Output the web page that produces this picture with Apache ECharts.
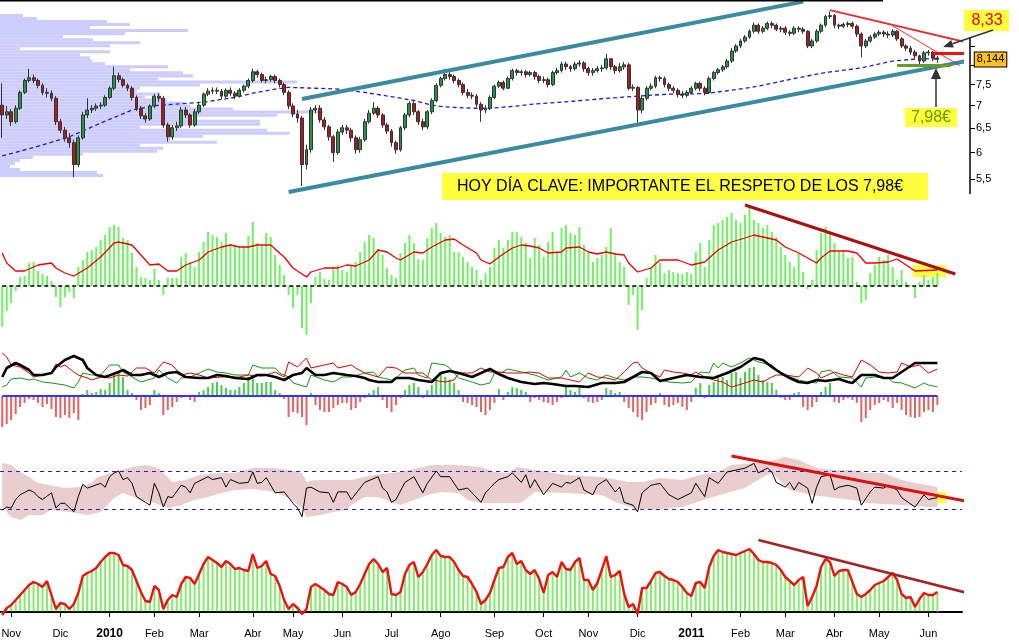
<!DOCTYPE html>
<html><head><meta charset="utf-8">
<script src="https://cdn.jsdelivr.net/npm/echarts@6/dist/echarts.min.js"></script>
<style>html,body{margin:0;padding:0;background:#fff}#c{width:1019px;height:644px}</style>
</head><body><div id="c"></div>
<script>
// ---------- DATA ----------
const N_CAT = 215; // 210 sessions (2 trading days each) + empty room on the right
const categories = Array.from({length: N_CAT}, (_, i) => 'd' + i);
const monthTickIndex = [2,13,24,34,44,56,65,76,87,98,110,121,131,142,154,165,175,186,196,207];
const monthLabels = ['Nov','Dic','2010','Feb','Mar','Abr','May','Jun','Jul','Ago','Sep','Oct','Nov','Dic','2011','Feb','Mar','Abr','May','Jun'];
const priceTicks = [5.5,6,6.5,7,7.5,8,8.5];
const priceTickLabels = [5.5,6,6.5,7,7.5];
const lastPrice = 8.144;

// [open, close, low, high]
const candles = [
[7.01,6.79,6.30,7.53],[6.79,6.86,6.70,6.99],[6.86,6.64,6.55,6.92],[6.64,6.94,6.60,7.01],[6.94,7.31,6.90,7.36],[7.31,7.60,7.27,7.65],[7.60,7.67,7.55,7.90],[7.67,7.60,7.53,7.75],[7.60,7.48,7.41,7.65],[7.48,7.31,7.24,7.53],
[7.31,7.29,7.19,7.41],[7.29,7.17,7.10,7.36],[7.17,6.64,6.57,7.22],[6.64,6.46,6.40,6.70],[6.46,6.30,6.22,6.53],[6.30,6.20,6.10,6.40],[6.20,5.77,5.54,6.26],[5.77,6.30,5.72,6.35],[6.30,6.79,6.26,6.86],[6.79,6.90,6.72,7.17],
[6.90,6.94,6.83,7.01],[6.94,6.99,6.88,7.05],[6.99,7.01,6.92,7.08],[7.01,7.19,6.97,7.24],[7.19,7.41,7.15,7.46],[7.41,7.72,7.36,7.95],[7.72,7.62,7.55,7.80],[7.62,7.48,7.43,7.67],[7.48,7.41,7.34,7.53],[7.41,7.19,7.12,7.46],
[7.19,6.94,6.88,7.24],[6.94,6.77,6.70,6.99],[6.77,6.70,6.62,6.83],[6.70,6.99,6.66,7.03],[6.99,7.22,6.94,7.27],[7.22,7.17,7.08,7.29],[7.17,6.57,6.51,7.22],[6.57,6.32,6.22,6.62],[6.32,6.51,6.26,6.57],[6.51,6.55,6.44,6.64],
[6.55,6.90,6.51,6.97],[6.90,6.79,6.72,6.97],[6.79,6.57,6.51,6.83],[6.57,6.86,6.53,6.92],[6.86,7.01,6.81,7.08],[7.01,7.27,6.97,7.31],[7.27,7.34,7.22,7.41],[7.34,7.36,7.27,7.43],[7.36,7.34,7.27,7.43],[7.34,7.22,7.15,7.39],
[7.22,7.36,7.17,7.41],[7.36,7.29,7.22,7.43],[7.29,7.22,7.15,7.34],[7.22,7.36,7.19,7.41],[7.36,7.46,7.31,7.50],[7.46,7.60,7.41,7.65],[7.60,7.82,7.55,7.90],[7.82,7.75,7.67,7.87],[7.75,7.60,7.55,7.80],[7.60,7.62,7.53,7.70],
[7.62,7.70,7.57,7.75],[7.70,7.60,7.53,7.75],[7.60,7.50,7.43,7.65],[7.50,7.31,7.24,7.55],[7.31,6.99,6.92,7.36],[6.99,6.81,6.74,7.05],[6.81,6.72,6.62,6.90],[6.72,5.77,5.38,6.77],[5.77,6.06,5.68,6.16],[6.06,6.90,6.00,6.97],
[6.90,6.94,6.83,7.01],[6.94,6.68,6.62,7.01],[6.68,6.53,6.46,6.74],[6.53,6.32,6.24,6.57],[6.32,6.00,5.82,6.36],[6.00,6.42,5.96,6.48],[6.42,6.51,6.36,6.57],[6.51,6.46,6.38,6.57],[6.46,6.30,6.22,6.51],[6.30,6.06,5.98,6.35],
[6.06,6.26,6.00,6.32],[6.26,6.64,6.22,6.70],[6.64,6.83,6.60,6.90],[6.83,6.94,6.79,7.08],[6.94,6.79,6.72,6.99],[6.79,6.57,6.51,6.83],[6.57,6.44,6.38,6.62],[6.44,6.20,6.12,6.48],[6.20,6.06,5.98,6.24],[6.06,6.51,6.02,6.55],
[6.51,6.79,6.46,6.83],[6.79,7.05,6.74,7.10],[7.05,6.86,6.79,7.10],[6.86,6.64,6.57,6.90],[6.64,6.53,6.46,6.70],[6.53,6.86,6.48,6.90],[6.86,7.12,6.81,7.17],[7.12,7.48,7.08,7.53],[7.48,7.65,7.43,7.70],[7.65,7.75,7.60,7.90],
[7.75,7.70,7.62,7.82],[7.70,7.60,7.53,7.75],[7.60,7.50,7.43,7.65],[7.50,7.31,7.24,7.55],[7.31,7.24,7.17,7.39],[7.24,7.22,7.15,7.31],[7.22,7.03,6.97,7.27],[7.03,6.90,6.64,7.08],[6.90,6.94,6.83,7.01],[6.94,7.19,6.90,7.24],
[7.19,7.46,7.15,7.50],[7.46,7.55,7.41,7.60],[7.55,7.41,7.36,7.60],[7.41,7.65,7.39,7.70],[7.65,7.85,7.60,7.90],[7.85,7.80,7.72,7.90],[7.80,7.82,7.72,7.87],[7.82,7.75,7.67,7.87],[7.75,7.80,7.70,7.85],[7.80,7.70,7.62,7.85],
[7.70,7.60,7.53,7.75],[7.60,7.62,7.53,7.70],[7.62,7.50,7.43,7.67],[7.50,7.80,7.46,7.85],[7.80,7.85,7.75,7.92],[7.85,8.02,7.80,8.08],[8.02,7.95,7.87,8.08],[7.95,7.90,7.82,8.00],[7.90,8.02,7.85,8.08],[8.02,8.05,7.95,8.13],
[8.05,7.90,7.82,8.10],[7.90,7.80,7.72,7.95],[7.80,7.85,7.72,7.92],[7.85,7.90,7.80,7.97],[7.90,7.92,7.82,8.00],[7.92,8.16,7.87,8.29],[8.16,7.95,7.87,8.18],[7.95,7.85,7.77,8.00],[7.85,7.95,7.80,8.05],[7.95,8.00,7.87,8.08],
[8.00,7.41,7.36,8.05],[7.41,7.43,7.34,7.50],[7.43,6.90,6.62,7.46],[6.90,7.17,6.83,7.22],[7.17,7.41,7.12,7.46],[7.41,7.46,7.36,7.53],[7.46,7.67,7.41,7.72],[7.67,7.65,7.57,7.72],[7.65,7.50,7.43,7.70],[7.50,7.41,7.34,7.55],
[7.41,7.36,7.29,7.46],[7.36,7.27,7.19,7.41],[7.27,7.24,7.17,7.34],[7.24,7.31,7.19,7.36],[7.31,7.41,7.27,7.46],[7.41,7.53,7.36,7.57],[7.53,7.41,7.34,7.57],[7.41,7.31,7.24,7.46],[7.31,7.65,7.27,7.70],[7.65,7.80,7.60,7.85],
[7.80,7.87,7.75,7.92],[7.87,7.95,7.82,8.00],[7.95,8.10,7.90,8.16],[8.10,8.37,8.05,8.45],[8.37,8.51,8.32,8.56],[8.51,8.65,8.45,8.71],[8.65,8.76,8.60,8.82],[8.76,8.93,8.71,8.99],[8.93,9.11,8.87,9.19],[9.11,8.93,8.85,9.16],
[8.93,9.02,8.87,9.08],[9.02,9.16,8.96,9.22],[9.16,9.11,9.02,9.22],[9.11,8.99,8.93,9.16],[8.99,9.02,8.90,9.08],[9.02,8.90,8.82,9.08],[8.90,8.87,8.79,8.96],[8.87,9.02,8.82,9.08],[9.02,8.99,8.90,9.08],[8.99,8.93,8.85,9.05],
[8.93,8.51,8.45,8.96],[8.51,8.65,8.45,8.71],[8.65,8.93,8.60,8.99],[8.93,9.11,8.87,9.16],[9.11,9.37,9.05,9.43],[9.37,9.40,9.30,9.53],[9.40,9.11,9.02,9.45],[9.11,9.08,8.99,9.16],[9.08,9.13,9.02,9.19],[9.13,9.16,9.05,9.22],
[9.16,9.08,9.00,9.22],[9.08,8.85,8.76,9.13],[8.85,8.51,8.20,8.90],[8.51,8.65,8.45,8.71],[8.65,8.76,8.60,8.82],[8.76,8.85,8.71,8.90],[8.85,8.90,8.79,8.96],[8.90,8.85,8.76,8.96],[8.85,8.82,8.73,8.93],[8.82,8.93,8.76,8.99],
[8.93,8.71,8.65,8.96],[8.71,8.51,8.45,8.76],[8.51,8.45,8.37,8.56],[8.45,8.34,8.27,8.51],[8.34,8.24,8.16,8.40],[8.24,8.10,7.98,8.27],[8.10,8.32,8.05,8.37],[8.32,8.34,8.24,8.40],[8.34,8.18,8.10,8.37],[8.18,8.144,8.05,8.24]
];

// moving average (sparse: [session, price])
const movingAvg = [[0,5.94],[7,6.10],[15,6.32],[22,6.61],[29,6.90],[35,7.01],[41,7.05],[45,7.08],[52,7.19],[56,7.29],[61,7.39],[64,7.43],[70,7.41],[75,7.39],[81,7.31],[88,7.19],[92,7.12],[96,7.01],[99,6.97],[105,6.94],[109,6.94],[115,6.99],[118,7.03],[125,7.08],[133,7.15],[138,7.19],[142,7.22],[149,7.27],[153,7.27],[158,7.29],[166,7.41],[169,7.46],[177,7.65],[184,7.80],[192,7.92],[199,8.10],[205,8.16],[209,8.16]];

// volume-at-price profile rows, top (high price) to bottom
const volumeProfile = [23,37,107,130,90,188,125,63,93,140,110,20,110,80,90,92,105,168,130,183,193,158,297,200,140,137,160,145,167,185,190,233,323,277,190,260,260,140,267,290,203,170,217,140,163,157,83,33,20,15,10,20,97,103];

// drawn lines on price panel ([session, price])
const channelUpper = [[67,7.154],[179,9.84]];
const channelLower = [[64,5.275],[216,8.114]];
const resistanceLine = [[185,9.57],[217,8.57]];
const resistanceThin = [[199,9.09],[214,7.98]];
const level833 = [[208,8.30],[215,8.30]];
const level798 = [[200,7.98],[212,7.98]];

// panel 2 : oscillator histogram + signal
const oscHist = [-41,-25,-17,-5,9,10,23,24,15,12, 10,5,-11,-21,-11,-6,-12,19,26,34, 36,39,46,51,59,61,59,48,46,33, 19,9,8,6,17,6,-9,8,8,8, 29,33,24,19,34,44,54,51,49,44, 53,42,41,39,39,50,64,43,41,53, 49,31,21,11,-9,-22,-9,-42,-49,-17, 9,14,7,6,19,21,16,14,21,24, 34,44,51,48,37,31,18,11,8,33, 43,51,43,27,26,48,58,63,53,49, 51,34,34,29,24,19,16,6,13,19, 38,46,38,46,54,54,49,43,28,48, 41,29,44,54,33,58,61,53,51,59, 41,33,24,28,31,39,58,33,24,19, -19,-9,-44,-24,8,19,31,23,13,16, 14,13,12,14,12,34,43,19,46,61, 63,66,69,73,66,63,71,81,66,63, 58,61,54,49,39,31,24,19,33,14, -3,6,36,53,59,54,43,34,36,28, 29,4,-17,-14,13,21,29,26,31,19, 6,16,4,1,-12,4,11,6,9,13];
const oscSignal = [[0,33],[1,23],[3,15],[5,15],[7,19],[8,21],[11,23],[12,18],[14,13],[16,10],[19,18],[22,29],[25,43],[26,44],[29,41],[31,31],[33,21],[35,22],[37,15],[39,15],[41,21],[44,26],[46,34],[49,39],[51,41],[53,39],[55,39],[57,41],[60,41],[63,29],[65,18],[68,9],[69,14],[72,18],[75,18],[77,21],[79,20],[82,26],[84,36],[86,34],[88,28],[89,26],[92,34],[94,33],[96,39],[99,46],[101,47],[103,41],[106,33],[107,26],[109,22],[111,29],[114,38],[116,41],[118,40],[120,38],[122,33],[125,34],[126,38],[129,39],[131,34],[133,32],[135,34],[137,32],[139,31],[140,23],[142,14],[145,18],[147,26],[151,26],[154,21],[157,24],[160,36],[163,44],[166,48],[168,51],[171,48],[173,46],[175,39],[178,33],[180,28],[182,23],[183,28],[185,35],[189,35],[191,33],[193,23],[195,23],[198,24],[200,27],[202,21],[204,15],[209,16]];
const oscTrend = [[166,81],[213,12]];

// panel 3 : directional histogram + three lines
const dirHist = [-31,-28,-24,-18,-11,-7,-3,-4,-7,-11, -8,-13,-21,-22,-19,-22,-17,-24,2,6, 3,4,7,6,13,23,24,19,6,3, -4,-14,-12,-9,6,3,-19,-14,-11,-6, -2,-1,-4,-6,4,6,9,13,14,11, 8,6,6,9,13,19,18,13,13,14, 14,6,3,-3,-21,-16,-17,-21,-29,3, -9,-14,-16,-16,-12,-9,-7,-7,-14,-12, -6,-2,3,6,9,-4,-12,-16,-9,-2, 6,11,13,9,-2,6,11,19,23,19, 16,13,6,-6,-7,-9,-11,-16,-19,-14, -7,7,-4,4,9,8,6,4,-6,-2, -4,-6,-7,-9,-6,-2,9,6,4,9, -2,-6,-7,-6,-4,8,6,3,4,-6, -12,-16,-21,-24,-16,-9,-7,3,-9,-11, -9,-7,-11,-14,-6,8,13,-2,11,14, 18,19,16,23,24,18,24,28,29,21, 16,14,13,6,-2,-4,-4,3,4,-11, -14,-11,-6,4,9,13,-6,-7,-4,-2, -4,-7,-26,-22,-14,-9,-7,-4,-6,-12, -7,-14,-19,-21,-22,-21,-16,-14,-16,-9];
const adxLine = [[0,19],[1,28],[3,33],[4,31],[6,26],[7,21],[9,21],[11,23],[12,29],[14,36],[16,40],[18,36],[19,28],[21,21],[23,19],[26,24],[27,26],[29,21],[31,21],[33,23],[35,19],[37,23],[39,24],[41,19],[44,18],[46,18],[48,21],[50,20],[52,18],[55,17],[57,21],[59,21],[61,19],[63,16],[65,21],[67,23],[68,28],[70,21],[72,21],[74,23],[77,21],[79,20],[81,18],[82,16],[84,14],[87,14],[88,18],[91,18],[93,16],[96,14],[98,23],[100,25],[102,23],[105,19],[107,23],[109,27],[111,22],[113,18],[116,14],[119,12],[121,13],[123,12],[126,10],[128,10],[131,9],[134,13],[137,13],[139,14],[141,19],[143,24],[145,23],[147,15],[150,18],[153,21],[156,19],[159,18],[162,23],[165,29],[168,38],[170,36],[172,29],[174,23],[176,18],[178,14],[180,13],[182,16],[184,15],[187,17],[189,14],[190,13],[192,21],[195,21],[197,18],[199,18],[201,24],[204,33],[207,33],[209,33]];
const diRed = [[0,43],[1,39],[2,31],[4,29],[6,23],[7,19],[9,21],[11,23],[12,32],[13,29],[14,31],[16,24],[17,21],[19,18],[20,16],[22,19],[24,18],[26,21],[28,20],[30,28],[32,28],[34,23],[36,34],[38,31],[40,21],[42,23],[44,21],[46,18],[49,19],[51,19],[53,19],[55,21],[58,20],[59,21],[61,24],[63,19],[64,34],[66,29],[68,38],[69,28],[70,29],[72,31],[74,33],[75,28],[78,31],[79,28],[81,23],[84,19],[86,29],[88,28],[90,23],[93,23],[94,23],[96,16],[99,14],[101,16],[102,23],[105,23],[107,28],[109,24],[111,24],[113,23],[116,23],[118,24],[120,23],[122,18],[125,18],[127,16],[129,14],[131,23],[133,19],[135,18],[137,16],[139,24],[141,33],[142,34],[143,28],[145,23],[147,19],[148,26],[150,24],[152,23],[154,21],[155,24],[157,19],[159,16],[161,14],[163,9],[166,13],[168,16],[170,14],[172,19],[173,21],[175,21],[178,19],[180,28],[182,23],[183,18],[186,24],[188,21],[190,19],[192,36],[194,31],[196,24],[198,23],[200,24],[201,33],[203,29],[205,31],[207,23],[209,27]];
const diGreen = [[0,9],[1,11],[2,17],[4,18],[6,16],[7,17],[9,14],[11,13],[14,11],[16,8],[17,14],[18,23],[20,21],[22,21],[24,31],[26,31],[27,24],[29,19],[31,14],[34,18],[35,26],[37,18],[39,13],[40,18],[42,19],[44,23],[46,27],[48,24],[50,23],[52,21],[55,21],[56,31],[58,28],[61,28],[62,23],[64,19],[65,13],[68,9],[69,21],[72,16],[74,14],[76,19],[78,19],[81,23],[83,24],[84,19],[87,16],[88,18],[90,26],[92,28],[93,21],[95,18],[96,33],[99,31],[100,28],[102,18],[105,14],[107,11],[109,13],[110,23],[111,22],[113,27],[116,24],[119,21],[122,16],[125,19],[126,26],[127,19],[129,23],[131,18],[133,16],[135,21],[137,18],[139,16],[141,19],[143,19],[145,18],[147,16],[149,14],[152,13],[154,14],[156,24],[158,23],[159,33],[160,28],[161,33],[163,29],[165,33],[167,38],[169,34],[172,31],[174,23],[176,19],[178,16],[180,14],[182,13],[183,24],[185,26],[187,19],[190,18],[192,9],[193,18],[195,19],[198,18],[199,14],[201,13],[204,8],[206,13],[207,11],[209,9]];

// panel 4 : RSI-type line with envelope
const rsiLine = [[0,29],[1,32],[2,31],[3,40],[4,45],[6,50],[7,48],[8,43],[9,40],[11,47],[12,31],[13,36],[14,36],[16,27],[17,43],[18,56],[19,52],[22,57],[23,53],[24,64],[25,68],[26,70],[27,61],[28,63],[29,57],[30,43],[32,37],[33,34],[34,57],[35,47],[36,32],[37,43],[38,42],[40,55],[41,53],[42,47],[43,57],[46,64],[47,61],[49,63],[50,53],[51,61],[53,57],[55,58],[56,69],[57,57],[58,58],[59,63],[61,47],[63,48],[64,42],[65,36],[66,31],[67,22],[68,52],[69,53],[71,48],[73,47],[74,37],[75,48],[77,48],[78,40],[80,52],[81,58],[84,64],[85,52],[86,48],[87,37],[88,40],[90,58],[92,64],[94,47],[95,57],[97,70],[98,64],[100,64],[102,50],[104,52],[105,47],[107,37],[108,47],[110,57],[111,61],[113,64],[114,68],[116,58],[117,66],[118,52],[119,61],[121,45],[123,57],[125,53],[126,58],[127,57],[129,63],[130,50],[132,45],[133,55],[135,61],[137,48],[138,53],[139,37],[141,34],[142,27],[143,47],[145,55],[147,57],[149,45],[151,40],[154,47],[155,57],[157,43],[158,63],[160,57],[162,69],[164,71],[166,73],[168,78],[169,68],[171,73],[172,69],[173,58],[175,53],[176,58],[177,50],[178,58],[180,52],[181,36],[182,53],[183,64],[185,66],[186,50],[187,53],[189,55],[191,52],[192,34],[194,48],[195,53],[197,52],[198,55],[200,50],[201,42],[204,32],[206,45],[207,40],[209,42]];
const bandUpper = [[0,78.4],[2,76.3],[4,68.9],[6,63.7],[8,57.4],[14,52.1],[17,53.2],[20,57.4],[21,62.6],[25,68.9],[29,74.2],[32,76.3],[35,73.2],[38,58.4],[41,60.5],[44,65.8],[48,67.9],[52,67.9],[56,73.2],[61,73.2],[64,71.1],[67,67.9],[68,58.4],[70,60.5],[74,60.5],[78,60.5],[83,65.8],[89,68.9],[93,73.2],[96,76.3],[101,76.3],[107,74.2],[110,68.9],[113,67.9],[115,74.2],[119,71.1],[126,65.8],[134,63.7],[140,58.4],[143,58.4],[147,62.6],[152,60.5],[156,65.8],[160,68.9],[163,76.3],[168,78.4],[171,79.5],[175,84.7],[178,81.6],[182,73.2],[186,71.1],[190,71.1],[193,67.9],[197,67.9],[201,60.5],[204,57.4],[209,53.2]];
const bandLower = [[0,32.1],[2,21.6],[4,18.4],[6,23.7],[9,23.7],[11,28.9],[15,26.8],[19,23.7],[22,26.8],[25,41.6],[27,46.8],[31,39.5],[34,36.3],[37,31.1],[40,34.2],[43,39.5],[46,42.6],[49,46.8],[52,50],[56,51.1],[61,47.9],[64,41.6],[67,31.1],[68,21.6],[71,23.7],[74,26.8],[77,28.9],[78,34.2],[81,42.6],[84,42.6],[87,37.4],[89,34.2],[92,39.5],[95,44.7],[98,47.9],[102,46.8],[104,39.5],[107,36.3],[110,36.3],[116,36.3],[119,47.9],[126,46.8],[134,44.7],[137,37.4],[141,31.1],[145,28.9],[152,32.1],[158,41.6],[162,46.8],[166,52.1],[170,63.7],[172,67.9],[176,50],[181,44.7],[186,41.6],[190,39.5],[193,36.3],[201,34.2],[207,32.1],[209,32.1]];
const rsiTrend = [[163,85.8],[221,33.2]];

// panel 5 : stochastic-type line with histogram
const stochLine = [-3,4,7,12,17,22,27,30,28,25, 31,17,3,9,8,3,8,19,36,39, 41,44,50,55,59,59,57,47,46,42, 31,20,11,10,26,22,3,12,17,15, 28,35,34,28,38,48,55,52,49,45, 51,48,43,44,42,41,58,44,46,51, 38,36,26,12,3,8,4,-2,3,25, 28,25,22,18,17,30,28,25,17,20, 28,38,48,53,48,40,44,18,17,20, 38,47,50,35,40,48,57,62,56,55, 55,50,42,36,35,28,20,8,12,19, 32,44,45,55,59,48,51,42,38,42, 33,19,37,40,35,50,43,42,50,54, 32,32,22,29,42,56,35,37,41,18, 5,8,-2,24,24,31,39,40,36,33, 32,30,25,19,16,29,30,24,45,56, 62,60,59,58,57,59,61,63,58,52, 50,50,49,47,42,35,31,27,32,35, 6,15,26,45,53,50,36,41,42,42, 30,18,15,18,22,27,29,31,35,39, 32,18,14,15,5,13,19,17,17,20];
const stochTrend = [[169,72],[221,13]];

// ---------- CHART ----------
const FONT = '"Liberation Sans", Arial, sans-serif';
const YELLOW = '#ffff3c';
const chart = echarts.init(document.getElementById('c'), null, {renderer: 'canvas'});

const grids = [
  {top: 2.86, height: 205.52},   // 0 price (log)
  {top: 14, height: 163},        // 1 volume profile
  {top: 37.47, height: 156.01},  // 2 price axis
  {top: 196, height: 150},       // 3 oscillator
  {top: 341, height: 100},       // 4 directional
  {top: 442.5, height: 95},      // 5 rsi
  {top: 537, height: 86}         // 6 stochastic
].map(g => Object.assign({left: 0, width: 962, show: false, containLabel: false, outerBoundsMode: 'none'}, g));

const catAxis = (gi, extra) => Object.assign({type: 'category', gridIndex: gi, data: categories, boundaryGap: true, show: false}, extra || {});
const isMonth = (i) => monthTickIndex.indexOf(i) >= 0;

const xAxis = [
  catAxis(0),
  {type: 'value', gridIndex: 1, min: 0, max: 962, show: false},
  catAxis(2), catAxis(3), catAxis(4), catAxis(5),
  catAxis(6, {
    show: true,
    axisLine: {show: true, lineStyle: {color: '#000', width: 2}},
    axisTick: {show: true, alignWithLabel: true, interval: (i) => isMonth(i), length: 5, lineStyle: {color: '#000', width: 1}},
    axisLabel: {
      show: true, interval: (i) => isMonth(i), margin: 5, color: '#000', fontSize: 11, fontFamily: FONT,
      formatter: (v, i) => {
        const k = monthTickIndex.indexOf(i);
        if (k < 0) return '';
        const t = monthLabels[k];
        return /^\d{4}$/.test(t) ? '{y|' + t + '}' : t;
      },
      rich: {y: {fontWeight: 'bold', fontSize: 12, color: '#000', fontFamily: FONT}}
    },
    splitLine: {show: false}
  })
];

const yAxis = [
  {type: 'log', gridIndex: 0, min: 5, max: 9.8, show: false},
  {type: 'category', gridIndex: 1, data: volumeProfile.map((_, i) => 'r' + i), inverse: true, show: false},
  {type: 'log', gridIndex: 2, position: 'right', offset: 8, min: 5.25, max: 8.75,
   axisLine: {show: true, onZero: false, lineStyle: {color: '#000', width: 1.5}},
   axisTick: {show: true, length: 5, lineStyle: {color: '#000'}, customValues: priceTicks},
   axisLabel: {show: true, customValues: priceTickLabels, margin: 6, color: '#000', fontSize: 11, fontFamily: FONT,
     formatter: (v) => (Math.round(v * 100) / 100).toString().replace('.', ',')},
   splitLine: {show: false}, minorTick: {show: false}},
  {type: 'value', gridIndex: 3, min: -60, max: 90, show: false},
  {type: 'value', gridIndex: 4, min: -45, max: 55, show: false},
  {type: 'value', gridIndex: 5, min: 0, max: 100, show: false},
  {type: 'value', gridIndex: 6, min: -11, max: 75, show: false}
];

const line = (xi, data, color, width, extra) => Object.assign({
  type: 'line', xAxisIndex: xi, yAxisIndex: xi, data: data, symbol: 'none', silent: true,
  lineStyle: {color: color, width: width}, z: 5
}, extra || {});

const series = [
  {type: 'bar', xAxisIndex: 1, yAxisIndex: 1, data: volumeProfile, barCategoryGap: '0%', silent: true,
   itemStyle: {color: '#ccccfd'}, z: 1},
  {type: 'candlestick', xAxisIndex: 0, yAxisIndex: 0, data: candles, barWidth: 3.4, silent: true, z: 4,
   itemStyle: {color: '#25963d', color0: '#b0181c', borderColor: '#333', borderColor0: '#333', borderWidth: 1}},
  // invisible carrier of the last-price tag on the price axis
  line(0, [[0, lastPrice], [214, lastPrice]], 'rgba(0,0,0,0)', 0, {
   z: 20,
   endLabel: {show: true, distance: 15, formatter: '8,144', color: '#000', fontSize: 11, fontFamily: FONT,
     backgroundColor: '#ffc21a', borderColor: '#000', borderWidth: 1, padding: [2, 2, 1, 2]}}),
  line(0, movingAvg, '#1a1ad6', 1.3, {lineStyle: {color: '#1a1ad6', width: 1.3, type: [4, 3]}, z: 3}),
  line(0, channelUpper, '#3a8ba0', 4, {clip: true, z: 6}),
  line(0, channelLower, '#3a8ba0', 4, {clip: false, z: 6}),
  line(0, resistanceLine, '#e52e2e', 2, {clip: false, z: 6}),
  line(0, resistanceThin, '#ee3030', 1, {clip: false, z: 6}),
  line(0, level833, '#ee1111', 3, {clip: false, z: 6}),
  line(0, level798, '#6b9a24', 3, {clip: false, z: 6}),

  {type: 'bar', xAxisIndex: 3, yAxisIndex: 3, data: oscHist, barWidth: 2, silent: true, z: 3,
   itemStyle: {color: '#70f063'},
   markArea: {silent: true, itemStyle: {color: YELLOW}, data: [[{coord: [204, 21]}, {coord: [211, 9]}]]},
   markLine: {symbol: ['none', 'none'], silent: true, label: {show: false},
     lineStyle: {color: '#000', type: [4, 3], width: 1.5},
     data: [[{coord: [0, 0]}, {coord: [209, 0]}]]}},
  line(3, oscSignal, '#ee0000', 1.3),
  line(3, oscTrend, '#aa1010', 3, {clip: false, z: 7}),

  {type: 'bar', xAxisIndex: 4, yAxisIndex: 4, data: dirHist, barWidth: 2, silent: true, z: 3,
   itemStyle: {color: (p) => p.value >= 0 ? '#4cc94c' : '#e06464'},
   markLine: {symbol: ['none', 'none'], silent: true, label: {show: false},
     lineStyle: {color: '#3535ee', type: 'solid', width: 2},
     data: [[{coord: [0, 0]}, {coord: [209, 0]}]]}},
  line(4, diGreen, '#129612', 1),
  line(4, diRed, '#dd0000', 1),
  line(4, adxLine, '#000', 2.6, {z: 6}),

  {type: 'custom', xAxisIndex: 5, yAxisIndex: 5, coordinateSystem: 'cartesian2d', data: [[0, 50]], silent: true, z: 1,
   renderItem: (params, api) => {
     const pts = bandUpper.map(p => api.coord(p)).concat(bandLower.slice().reverse().map(p => api.coord(p)));
     return {type: 'polygon', shape: {points: pts}, style: {fill: '#eacdcd'}};
   }},
  line(5, rsiLine, '#000', 1, {
   markLine: {symbol: ['none', 'none'], silent: true, label: {show: false},
     lineStyle: {color: '#2424cc', type: [4, 4], width: 1.2},
     data: [{yAxis: 70}, {yAxis: 30}]},
   markArea: {silent: true, itemStyle: {color: YELLOW}, data: [[{coord: [207, 47.9]}, {coord: [211, 36.3]}]]}}),
  line(5, rsiTrend, '#d81010', 3, {clip: false, z: 7}),

  {type: 'bar', xAxisIndex: 6, yAxisIndex: 6, data: stochLine, barWidth: 2, silent: true, z: 2,
   itemStyle: {color: '#84ec6c'},
   markLine: {symbol: ['none', 'none'], silent: true, label: {show: false},
     lineStyle: {color: '#000', type: 'solid', width: 1.5},
     data: [[{coord: [0, 0]}, {coord: [209, 0]}]]}},
  line(6, stochLine.map((v, i) => [i, v]), '#ee1111', 2.4),
  line(6, stochTrend, '#a82020', 2.5, {clip: false, z: 7})
];

const graphic = [
  {type: 'line', shape: {x1: 0, y1: 0.75, x2: 883, y2: 0.75}, style: {stroke: '#000', lineWidth: 1.5}, z: 100},
  {type: 'rect', shape: {x: 442, y: 173, width: 486, height: 27}, style: {fill: YELLOW}, z: 100},
  {type: 'text', x: 680, y: 187, z: 101, style: {text: 'HOY DÍA CLAVE: IMPORTANTE EL RESPETO DE LOS 7,98€', fill: '#000',
    font: '16px ' + FONT, align: 'center', verticalAlign: 'middle'}},
  {type: 'rect', shape: {x: 964, y: 10, width: 45, height: 21}, style: {fill: YELLOW}, z: 100},
  {type: 'text', x: 987, y: 21, z: 101, style: {text: '8,33', fill: '#ee0000', font: '16px ' + FONT, align: 'center', verticalAlign: 'middle'}},
  {type: 'line', shape: {x1: 993, y1: 30, x2: 952.5, y2: 43.8}, style: {stroke: '#333', lineWidth: 1.5}, z: 102},
  {type: 'polygon', shape: {points: [[943, 47], [953.8, 47.6], [951.2, 40.0]]}, style: {fill: '#333'}, z: 102},
  {type: 'rect', shape: {x: 905, y: 108, width: 52, height: 19}, style: {fill: YELLOW}, z: 100},
  {type: 'text', x: 931, y: 117.5, z: 101, style: {text: '7,98€', fill: '#669900', font: '16px ' + FONT, align: 'center', verticalAlign: 'middle'}},
  {type: 'line', shape: {x1: 936, y1: 107, x2: 936, y2: 78}, style: {stroke: '#333', lineWidth: 1.5}, z: 102},
  {type: 'polygon', shape: {points: [[936, 68], [931, 79], [941, 79]]}, style: {fill: '#333'}, z: 102}
];

chart.setOption({
  animation: false,
  backgroundColor: '#fff',
  textStyle: {fontFamily: FONT},
  grid: grids, xAxis: xAxis, yAxis: yAxis, series: series, graphic: graphic
});
</script></body></html>
